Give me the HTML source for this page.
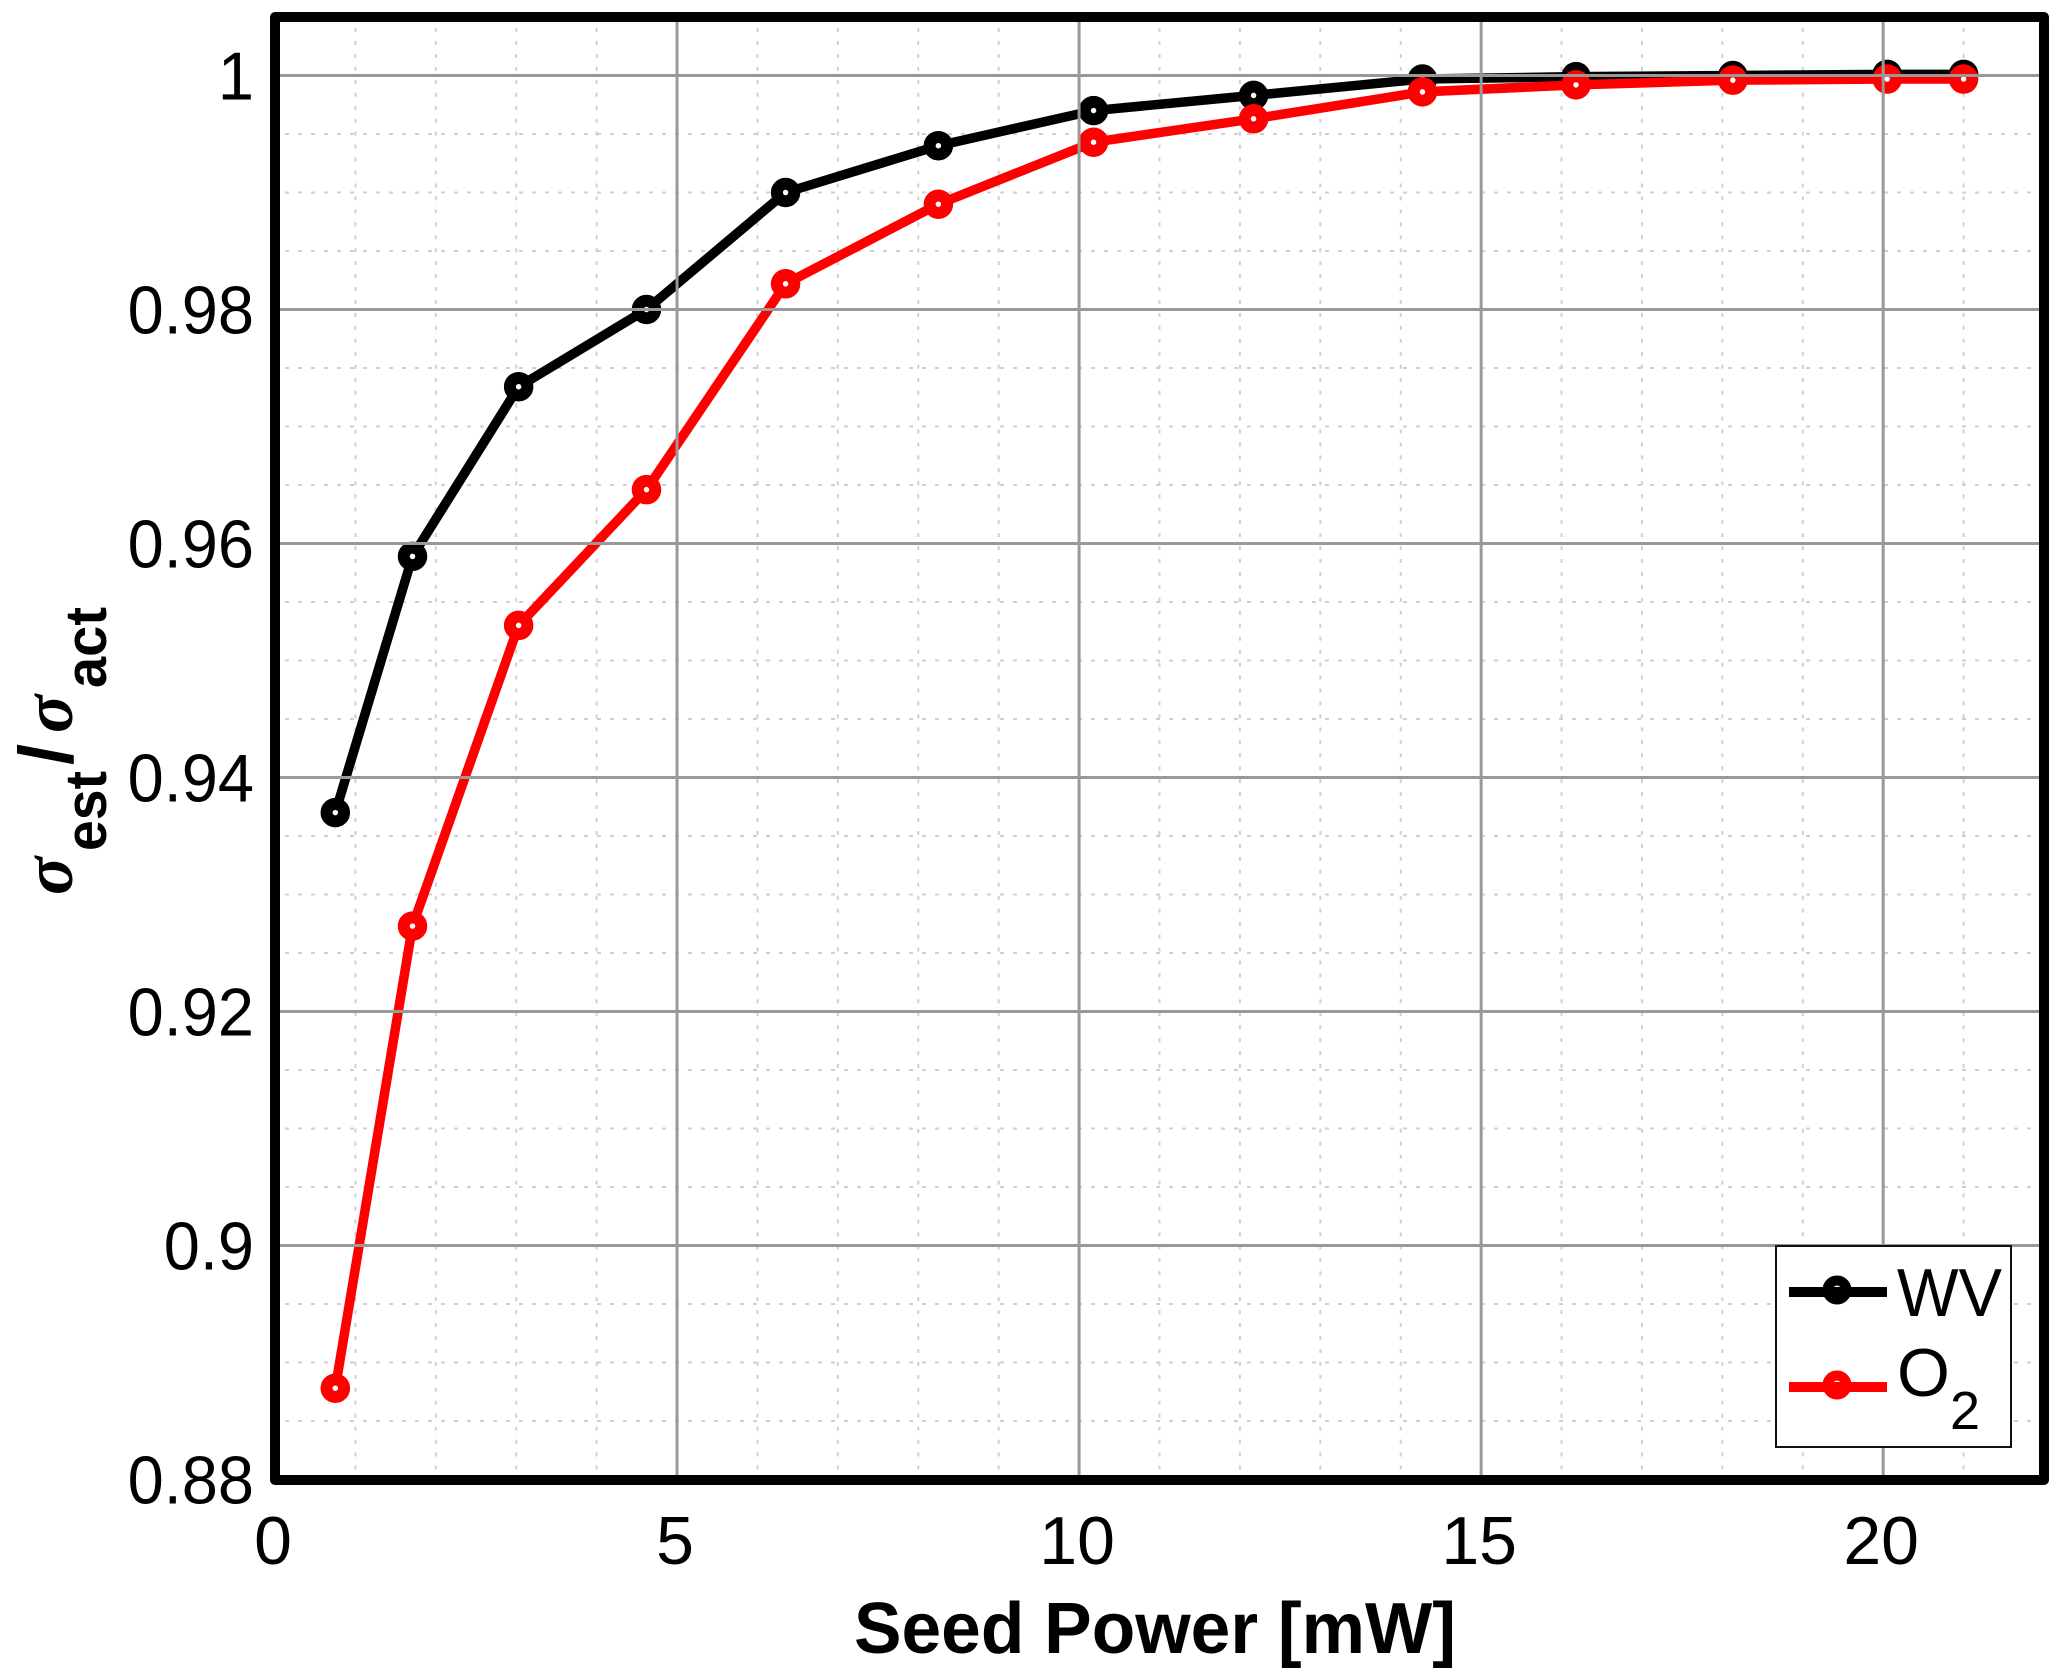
<!DOCTYPE html>
<html>
<head>
<meta charset="utf-8">
<title>Seed Power chart</title>
<style>
html,body{margin:0;padding:0;background:#fff;width:2067px;height:1679px;overflow:hidden}
svg{display:block}
text{font-family:"Liberation Sans",Arial,sans-serif;fill:#000}
</style>
</head>
<body>
<svg id="chart" xmlns="http://www.w3.org/2000/svg" width="2067" height="1679" viewBox="0 0 2067 1679">
  <rect x="0" y="0" width="2067" height="1679" fill="#fff"/>
  <g id="minor-grid"></g>
  <g id="series"></g>
  <g id="major-grid"></g>
  <rect x="275" y="17" width="1769" height="1463" fill="none" stroke="#000" stroke-width="10" stroke-linejoin="round"/>
  <g id="tick-labels"></g>
  <text x="1155" y="1653" text-anchor="middle" font-size="72" font-weight="bold" textLength="602" lengthAdjust="spacingAndGlyphs">Seed Power [mW]</text>
  <g transform="translate(72,895) rotate(-90)">
    <text x="0" y="0" font-size="71" font-weight="bold" font-style="italic" style="font-family:'Liberation Serif',serif">σ</text>
    <text x="44" y="34" font-size="58" font-weight="bold" textLength="80" lengthAdjust="spacingAndGlyphs">est</text>
    <text x="130" y="0" font-size="76" font-weight="bold">/</text>
    <text x="162" y="0" font-size="71" font-weight="bold" font-style="italic" style="font-family:'Liberation Serif',serif">σ</text>
    <text x="207" y="34" font-size="58" font-weight="bold" textLength="81" lengthAdjust="spacingAndGlyphs">act</text>
  </g>
  <g>
    <rect x="1776" y="1246" width="235" height="201" fill="#fff" stroke="#111" stroke-width="2"/>
    <g>
      <circle cx="1837" cy="1290" r="9.5" fill="#fff" stroke="#000" stroke-width="10"/>
      <line x1="1789" y1="1292" x2="1887" y2="1292" stroke="#000" stroke-width="10"/>
      <text x="1897" y="1316" font-size="68" textLength="105" lengthAdjust="spacingAndGlyphs">WV</text>
    </g>
    <g>
      <circle cx="1837" cy="1385" r="9.5" fill="#fff" stroke="#f00" stroke-width="10"/>
      <line x1="1789" y1="1387" x2="1887" y2="1387" stroke="#f00" stroke-width="10"/>
      <text x="1897" y="1396" font-size="68">O</text>
      <text x="1950" y="1429" font-size="54">2</text>
    </g>
  </g>
</svg>
<script>
const seedPower = [0.75, 1.71, 3.03, 4.62, 6.35, 8.25, 10.18, 12.17, 14.27, 16.18, 18.13, 20.05, 21.0];
const wvValues = [0.937, 0.9589, 0.9734, 0.98, 0.99, 0.994, 0.997, 0.9983, 0.9997, 0.9999, 1.0, 1.0001, 1.0001];
const o2Values = [0.8878, 0.9273, 0.953, 0.9646, 0.9822, 0.989, 0.9943, 0.9963, 0.9986, 0.9992, 0.9996, 0.9997, 0.9997];
const xTicks = [0, 5, 10, 15, 20];
const yTicks = [0.88, 0.9, 0.92, 0.94, 0.96, 0.98, 1];
const xTickLabels = ['0', '5', '10', '15', '20'];
const yTickLabels = ['0.88', '0.9', '0.92', '0.94', '0.96', '0.98', '1'];
const xMinorTicks = [1, 2, 3, 4, 6, 7, 8, 9, 11, 12, 13, 14, 16, 17, 18, 19, 21];
const yMinorTicks = [0.885, 0.89, 0.895, 0.905, 0.91, 0.915, 0.925, 0.93, 0.935, 0.945, 0.95, 0.955, 0.965, 0.97, 0.975, 0.985, 0.99, 0.995];
const xDomain = [0, 22];
const yDomain = [0.88, 1.005];

const plotLeft = 275, plotRight = 2044, plotBottom = 1479.5, plotTop = 17;
function xScale(v) { return plotLeft + (v - xDomain[0]) / (xDomain[1] - xDomain[0]) * (plotRight - plotLeft); }
function yScale(v) { return plotBottom - (v - yDomain[0]) / (yDomain[1] - yDomain[0]) * (plotBottom - plotTop); }

const NS = 'http://www.w3.org/2000/svg';
function make(tag, attrs, parent) {
  const el = document.createElementNS(NS, tag);
  for (const k in attrs) el.setAttribute(k, attrs[k]);
  parent.appendChild(el);
  return el;
}

const minorLayer = document.getElementById('minor-grid');
const majorLayer = document.getElementById('major-grid');
const seriesLayer = document.getElementById('series');
const labelLayer = document.getElementById('tick-labels');

xMinorTicks.forEach(function (v) {
  const el = make('line', { x1: xScale(v), x2: xScale(v), y1: plotBottom - 10, y2: plotTop + 10, stroke: '#cfcfcf', 'stroke-width': 2, 'stroke-dasharray': '4 8.95' }, minorLayer);
  
  
});
yMinorTicks.forEach(function (v) {
  const el = make('line', { x1: plotLeft + 10, x2: plotRight - 10, y1: yScale(v), y2: yScale(v), stroke: '#cfcfcf', 'stroke-width': 2, 'stroke-dasharray': '4 9' }, minorLayer);
  
  
});

function drawSeries(values, color, name) {
  const g = make('g', {}, seriesLayer);
  
  
  const pts = seedPower.map(function (x, i) { return xScale(x) + ',' + yScale(values[i]); }).join(' ');
  const line = make('polyline', { points: pts, fill: 'none', stroke: color, 'stroke-width': 9.5, 'stroke-linejoin': 'round' }, g);
  
  
  seedPower.forEach(function (x, i) {
    const m = make('circle', { cx: xScale(x), cy: yScale(values[i]), r: 8.75, fill: '#fff', stroke: color, 'stroke-width': 12 }, g);
    
    
  });
}
drawSeries(wvValues, '#000', 'wv');
drawSeries(o2Values, '#f00', 'o2');

xTicks.forEach(function (v) {
  const el = make('line', { x1: xScale(v), x2: xScale(v), y1: plotTop, y2: plotBottom, stroke: '#999', 'stroke-width': 3 }, majorLayer);
  
  
});
yTicks.forEach(function (v) {
  const el = make('line', { x1: plotLeft, x2: plotRight, y1: yScale(v), y2: yScale(v), stroke: '#999', 'stroke-width': 3 }, majorLayer);
  
  
});

xTicks.forEach(function (v, i) {
  const el = make('text', { x: xScale(v) - 2, y: 1564, 'text-anchor': 'middle', 'font-size': 68 }, labelLayer);
  el.textContent = xTickLabels[i];
  
  
});
yTicks.forEach(function (v, i) {
  const el = make('text', { transform: 'translate(254,' + (yScale(v) + 24) + ') scale(0.955,1)', x: 0, y: 0, 'text-anchor': 'end', 'font-size': 68 }, labelLayer);
  el.textContent = yTickLabels[i];
  
  
});
</script>
</body>
</html>
